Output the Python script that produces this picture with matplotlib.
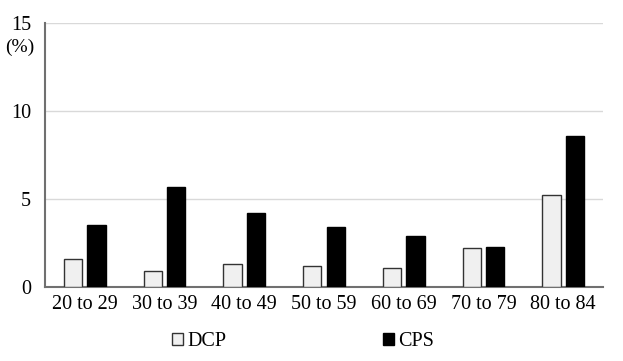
import numpy as np
import matplotlib.pyplot as plt

plt.rcParams['font.family'] = ['Liberation Serif', 'DejaVu Serif']

categories = ["20 to 29", "30 to 39", "40 to 49", "50 to 59", "60 to 69", "70 to 79", "80 to 84"]
dcp = [1.6, 0.9, 1.3, 1.2, 1.1, 2.2, 5.2]
cps = [3.5, 5.7, 4.2, 3.4, 2.9, 2.3, 8.6]

fig = plt.figure(figsize=(6.23, 3.61), dpi=100)
ax = fig.add_axes([45 / 623, 1 - 287 / 361, 558 / 623, 264 / 361])

x = np.arange(len(categories))
w = 0.23
off = 0.147
ax.bar(x - off, dcp, w, color='#f0f0f0', edgecolor='#333333', linewidth=1.0, label='DCP', zorder=3)
ax.bar(x + off, cps, w, color='black', edgecolor='black', linewidth=1.0, label='CPS', zorder=3)

ax.set_xlim(-0.5, len(categories) - 0.5)
ax.set_ylim(0, 15)
ax.set_yticks([0, 5, 10, 15])
ax.yaxis.grid(True, color='#d9d9d9', linewidth=1, zorder=0)
ax.set_axisbelow(True)
ax.set_xticks(x)
ax.set_xticklabels(categories)
ax.tick_params(axis='both', length=0, labelsize=14.5, colors='black')
ax.tick_params(axis='x', pad=6)
ax.tick_params(axis='y', pad=10)

for s in ['top', 'right']:
    ax.spines[s].set_visible(False)
ax.spines['left'].set_color('#707070')
ax.spines['left'].set_linewidth(1.5)
ax.spines['bottom'].set_color('#707070')
ax.spines['bottom'].set_linewidth(1.5)

fig.text(20 / 623, 1 - 47 / 361, "(%)", ha='center', va='center', fontsize=14)

leg = fig.legend(loc='center', bbox_to_anchor=(303 / 623, 1 - 342 / 361), ncol=2,
                 frameon=False, fontsize=14.5, handlelength=0.55, handleheight=0.55,
                 handletextpad=0.2, columnspacing=7.8)

fig.savefig("out.png", dpi=100)
